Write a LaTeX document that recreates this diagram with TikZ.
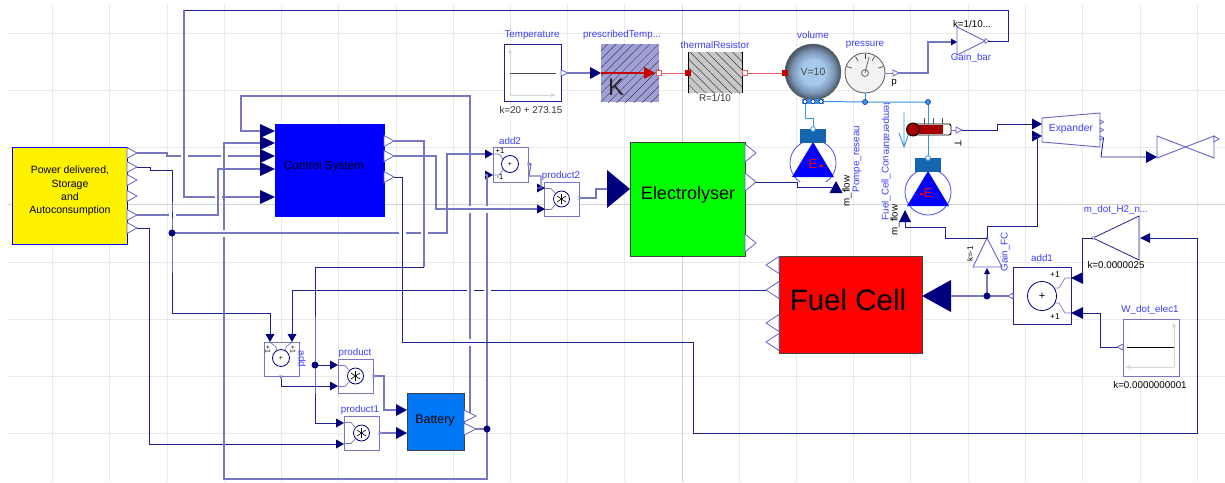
\documentclass[tikz,border=0pt]{standalone}
\usepackage{fontspec}
\setmainfont{Liberation Sans}
\usetikzlibrary{patterns.meta}
\definecolor{wiredark}{HTML}{20208F}
\definecolor{wiresoft}{HTML}{7878C0}
\definecolor{tipnavy}{HTML}{00007F}
\definecolor{portline}{HTML}{6464C4}
\definecolor{fluid}{HTML}{3794E6}
\definecolor{lblblue}{HTML}{3C3CFF}
\definecolor{gridlight}{HTML}{EAEAEA}
\definecolor{gridmid}{HTML}{D4D4D4}
\definecolor{heatred}{HTML}{E06060}
\definecolor{portred}{HTML}{C40000}
\definecolor{presfill}{HTML}{A0A0D8}
\definecolor{resfill}{HTML}{C8C8C8}
\definecolor{battfill}{HTML}{0078F5}
\definecolor{volinner}{HTML}{A5C8EB}
\definecolor{volmid}{HTML}{7A94B4}
\definecolor{volouter}{HTML}{46525F}
\definecolor{pumptop}{HTML}{1565B0}
\pgfdeclareradialshading{volshade}{\pgfpoint{0bp}{0bp}}{color(0bp)=(volinner); color(11bp)=(volinner); color(19bp)=(volmid); color(25bp)=(volouter); color(50bp)=(volouter)}
\tikzset{
  wire/.style={draw=wiredark,line width=0.9pt},
  softwire/.style={draw=wiresoft,line width=1.2pt},
  porttip/.style={fill=tipnavy},
  portopen/.style={draw=portline,fill=white,line width=0.8pt},
  smallbox/.style={draw=wiresoft,fill=white,line width=1pt,inner sep=0pt},
  opcircle/.style={draw=tipnavy,fill=white,line width=0.8pt},
  bigblock/.style={draw=black!75,fill=#1,line width=0.8pt,inner sep=0pt},
  lbl/.style={text=lblblue,inner sep=0pt,font=\fontsize{9.8}{11}\selectfont},
  dark/.style={text=black!80,inner sep=0pt,font=\fontsize{9.8}{11}\selectfont},
  hatchup/.style={fill=#1,postaction={pattern={Lines[angle=45,distance=6pt,line width=0.5pt]},pattern color=black!75}},
  hatchdown/.style={fill=#1,postaction={pattern={Lines[angle=-45,distance=6pt,line width=0.5pt]},pattern color=black!75}}
}
\newcommand{\intip}[6]{\fill[porttip,shift={(#2,#3)},rotate=#4] (0,0) -- (-#5,#6) -- (-#5,-#6) -- cycle;
  \path[shift={(#2,#3)},rotate=#4] (-#5,0) coordinate (#1);}
\newcommand{\outtip}[6]{\draw[portopen,shift={(#2,#3)},rotate=#4] (0,#6) -- (#5,0) -- (0,-#6) -- cycle;
  \path[shift={(#2,#3)},rotate=#4] (#5,0) coordinate (#1);}
\newcommand{\prodblock}[3]{\begin{scope}[shift={(#2,#3)}]
  \node[smallbox,minimum width=35pt,minimum height=34pt] (#1) at (17.5,17) {};
  \draw[wiresoft,line width=0.7pt] (0,6.5) -- (7,6.5) -- (11,11);
  \draw[wiresoft,line width=0.7pt] (0,27.5) -- (7,27.5) -- (11,23);
  \draw[opcircle] (17.5,17) circle (8pt);
  \draw[black,line width=0.6pt] (17.5,12) -- (17.5,22) (13,14) -- (22,20) (13,20) -- (22,14);
  \end{scope}}
\newcommand{\pumpblock}[3]{\begin{scope}[shift={(#2,#3)}]
  \draw[draw=blue!70,fill=white,line width=0.8pt] (0,0) circle (23pt);
  \fill[blue] (0,-21) -- (21,14) -- (-21,14) -- cycle;
  \fill[pumptop] (-13,-34) rectangle (13,-20);
  \coordinate (#1) at (0,-34);
  \end{scope}}
\newcommand{\hopH}[3]{\fill[white] (#1-3.5,#2-1.5) rectangle (#1+3.5,#2+1.5);
  \draw[#3] (#1,#2-3) -- (#1,#2+3);}
\newcommand{\hopV}[3]{\fill[white] (#1-1.5,#2-3.5) rectangle (#1+1.5,#2+3.5);
  \draw[#3] (#1-3,#2) -- (#1+3,#2);}
\begin{document}
\begin{tikzpicture}[x=1pt,y=-1pt]
\useasboundingbox (0,0) rectangle (1225,482);
\foreach \gx in {52,109,167,224,281,338,396,453,510,567,624,739,796,853,910,968,1025,1082,1140,1197}
  \draw[gridlight,line width=1pt] (\gx,5) -- (\gx,482);
\foreach \gy in {33,90,147,262,319,376,433}
  \draw[gridlight,line width=1pt] (8,\gy) -- (1225,\gy);
\draw[gridmid,line width=1pt] (682,5) -- (682,482);
\draw[gridmid,line width=1pt] (8,204) -- (1225,204);

\node[bigblock=yellow,draw=blue,minimum width=115pt,minimum height=97pt] (powerBlock) at (69.5,195.5) {};
\node[inner sep=0pt,align=center,font=\fontsize{10.5}{13.3}\selectfont] (powerText) at (70,191) {Power delivered,\\Storage\\and\\Autoconsumption};
\outtip{yelOut1}{127}{153}{0}{10}{5.5}
\outtip{yelOut2}{127}{167}{0}{10}{5.5}
\outtip{yelOut3}{127}{180}{0}{10}{5.5}
\outtip{yelOut4}{127}{196}{0}{10}{5.5}
\outtip{yelOut5}{127}{215}{0}{10}{5.5}
\outtip{yelOut6}{127}{228}{0}{10}{5.5}

\node[bigblock=blue,draw=blue,minimum width=109pt,minimum height=92pt] (ctrlBlock) at (329.5,170) {};
\node[inner sep=0pt,font=\fontsize{11.7}{13}\selectfont] (ctrlText) at (324,166) {Control System};
\intip{ctrlIn1}{275}{131}{0}{15}{7}
\intip{ctrlIn2}{275}{143}{0}{15}{7}
\intip{ctrlIn3}{275}{156}{0}{15}{7}
\intip{ctrlIn4}{275}{169}{0}{15}{7}
\intip{ctrlIn5}{275}{197}{0}{15}{7}
\outtip{ctrlOut1}{384}{141}{0}{10}{5.5}
\outtip{ctrlOut2}{384}{156}{0}{10}{5.5}
\outtip{ctrlOut3}{384}{177}{0}{10}{5.5}

\node[smallbox,minimum width=35pt,minimum height=34pt] (addBlock) at (281.5,359) {};
\draw[wiresoft,line width=0.7pt] (270,342) -- (276,347) -- (277,351);
\draw[wiresoft,line width=0.7pt] (292,342) -- (286,347) -- (285,351);
\draw[opcircle] (281,358) circle (8.5pt);
\node[inner sep=0pt,font=\fontsize{7}{8}\selectfont] (addPlus) at (281,358) {+};
\node[inner sep=0pt,rotate=-90,font=\fontsize{7}{8}\selectfont] (addSignA) at (268,349) {+1};
\node[inner sep=0pt,rotate=-90,font=\fontsize{7}{8}\selectfont] (addSignB) at (293,349) {+1};
\node[lbl,rotate=-90] (addLbl) at (302,359) {add};
\intip{addIn1}{270}{342}{-90}{8}{4.5}
\intip{addIn2}{292}{342}{-90}{8}{4.5}
\outtip{addOut}{281}{376}{-90}{2.5}{1.5}

\prodblock{prodBlock}{338}{359}
\node[lbl] (prodLbl) at (355,353) {product};
\intip{prodInA}{338}{365}{0}{8}{4.5}
\intip{prodInB}{338}{386}{0}{8}{4.5}
\outtip{prodOut}{373}{376}{0}{3}{1.5}

\prodblock{prodOneBlock}{344}{416}
\node[lbl] (prodOneLbl) at (360,410) {product1};
\intip{prodOneInA}{344}{423}{0}{8}{4.5}
\intip{prodOneInB}{344}{444}{0}{8}{4.5}
\outtip{prodOneOut}{379}{433}{0}{3}{1.5}

\node[bigblock=battfill,minimum width=57pt,minimum height=57pt] (battBlock) at (435.5,421.5) {};
\node[inner sep=0pt,font=\fontsize{12.4}{14}\selectfont] (battText) at (435,420.5) {Battery};
\intip{battInA}{407}{410}{0}{11}{6}
\intip{battInB}{407}{433}{0}{11}{6}
\outtip{battOutA}{464}{416}{0}{12}{6}
\outtip{battOutB}{464}{429}{0}{12}{6}
\coordinate (battTap) at (470,413);

\node[smallbox,minimum width=35pt,minimum height=35pt] (addTwoBlock) at (510.5,164.5) {};
\draw[wiresoft,line width=0.7pt] (493,154) -- (499,154) -- (503,159);
\draw[wiresoft,line width=0.7pt] (493,175) -- (499,175) -- (503,170);
\draw[opcircle] (510,164) circle (8.5pt);
\node[inner sep=0pt,font=\fontsize{7}{8}\selectfont] (addTwoPlus) at (510,164) {+};
\node[inner sep=0pt,font=\fontsize{7.5}{8}\selectfont] (addTwoSignA) at (500,151) {+1};
\node[inner sep=0pt,font=\fontsize{7.5}{8}\selectfont] (addTwoSignB) at (500,177) {-1};
\node[lbl] (addTwoLbl) at (510,141) {add2};
\intip{addTwoInA}{493}{154}{0}{8}{4.5}
\intip{addTwoInB}{493}{175}{0}{8}{4.5}
\outtip{addTwoOut}{528}{164}{0}{3}{1.5}

\prodblock{prodTwoBlock}{544}{182}
\node[lbl,fill=white] (prodTwoLbl) at (561,175.5) {product2};
\intip{prodTwoInA}{545}{188}{0}{8}{4.5}
\intip{prodTwoInB}{545}{209}{0}{8}{4.5}
\outtip{prodTwoOut}{579}{198}{0}{3}{1.5}

\node[bigblock=green,minimum width=115pt,minimum height=114pt] (elecBlock) at (687.5,199) {};
\node[inner sep=0pt,font=\fontsize{18}{20}\selectfont] (elecText) at (688,195) {Electrolyser};
\intip{elecIn}{630}{189}{0}{23}{19}
\outtip{elecOutA}{745}{153}{0}{11}{9}
\outtip{elecOutB}{745}{182}{0}{11}{9}
\outtip{elecOutC}{745}{243}{0}{11}{9}

\node[bigblock=red,minimum width=143pt,minimum height=97pt] (fuelBlock) at (850.5,304.5) {};
\node[inner sep=0pt,font=\fontsize{29.5}{32}\selectfont] (fuelText) at (848,300) {Fuel Cell};
\intip{fuelIn}{922}{296}{180}{29}{16}
\outtip{fuelOutA}{779}{265}{180}{13}{8.5}
\outtip{fuelOutB}{779}{290}{180}{13}{8.5}
\outtip{fuelOutC}{779}{323}{180}{13}{8.5}
\outtip{fuelOutD}{779}{342}{180}{13}{8.5}

\node[smallbox,draw=wiredark,minimum width=57pt,minimum height=57pt] (tempBlock) at (532.5,72.5) {};
\draw[gridmid,line width=0.8pt,-latex] (510,95) -- (510,48);
\draw[gridmid,line width=0.8pt,-latex] (510,95) -- (556,95);
\draw[black!70,line width=0.8pt] (510,73) -- (556,73);
\node[lbl] (tempLbl) at (532,35) {Temperature};
\node[dark] (tempVal) at (531,110) {k=20 + 273.15};
\outtip{tempOut}{561}{73}{0}{7}{3}

\node[hatchup=presfill,minimum width=58pt,minimum height=58pt,inner sep=0pt] (presBlock) at (630,73) {};
\node[inner sep=0pt,text=black!85,font=\fontsize{24}{26}\selectfont] (presK) at (616,87) {K};
\node[lbl] (presLbl) at (622,35) {prescribedTemp...};
\intip{presIn}{601}{73}{0}{11}{6}
\coordinate (presRed) at (601,73);
\draw[portred,line width=1.2pt] (presRed) -- (646,73);
\fill[portred] (655,73) -- (644,67) -- (644,79) -- cycle;
\node[draw=heatred,fill=white,line width=0.9pt,minimum size=5pt,inner sep=0pt] (presOut) at (659,73) {};

\node[hatchdown=resfill,minimum width=53pt,minimum height=41pt,inner sep=0pt] (resBlock) at (715.5,72.5) {};
\draw[black,line width=1.2pt] (resBlock.north west) -- (resBlock.south west);
\draw[black,line width=1.2pt] (resBlock.north east) -- (resBlock.south east);
\node[lbl] (resLbl) at (715,45) {thermalResistor};
\node[dark] (resVal) at (715,98) {R=1/10};
\node[fill=portred,minimum size=6pt,inner sep=0pt] (resIn) at (688,73) {};
\node[draw=heatred,fill=white,line width=0.9pt,minimum size=5pt,inner sep=0pt] (resOut) at (745,73) {};

\draw[heatred,line width=1pt] (presOut) -- (resIn);
\coordinate (volIn) at (785,73);
\draw[heatred,line width=1pt] (resOut) -- (volIn);

\node[circle,draw=black!60,shading=volshade,minimum size=56pt,inner sep=0pt,text=black!70,font=\fontsize{10.5}{12}\selectfont] (volBlock) at (813,72) {V=10};
\node[fill=portred,minimum size=6pt,inner sep=0pt] (volPort) at (volIn) {};
\node[lbl] (volLbl) at (813,35) {volume};
\node[fill=fluid,minimum width=22pt,minimum height=5.5pt,inner sep=0pt] (volPorts) at (813,101.5) {};
\draw[tipnavy,fill=white,line width=0.5pt] (805,101.5) circle (2pt) (813,101.5) circle (2pt) (821,101.5) circle (2pt);

\node[circle,draw=black!60,fill=black!5,minimum size=40pt,inner sep=0pt,line width=0.9pt] (pressBlock) at (865,73) {};
\foreach \ang in {160,120,90,60,20}
  \draw[black!80,line width=0.6pt] ([shift={(\ang:14pt)}]pressBlock.center) -- ([shift={(\ang:19pt)}]pressBlock.center);
\draw[black!50,line width=1pt] (865,73) circle (3.5pt);
\draw[black!60,line width=0.8pt] (865,73) -- (869,57);
\node[lbl] (pressLbl) at (865,44.5) {pressure};
\node[dark,text=black] (pressP) at (894,83) {p};
\outtip{pressOut}{893}{73}{0}{6}{3}
\draw[wiresoft,line width=0.8pt] (pressBlock.east) -- (893,73);

\draw[portline,fill=white,line width=0.9pt] (957,27) -- (985,41) -- (957,55) -- cycle;
\coordinate (gainBarOut) at (988,41);
\draw[portline,fill=white,line width=0.6pt] (985,38.5) -- (989,41) -- (985,43.5) -- cycle;
\intip{gainBarIn}{957}{42}{0}{6}{3.5}
\node[dark,text=black] (gainBarVal) at (972,24) {k=1/10...};
\node[lbl] (gainBarLbl) at (971,58) {Gain\_bar};

\pumpblock{pumpOnePort}{813}{163}
\fill[white] (798,181.5) rectangle (828,188);
\node[text=red,inner sep=0pt,font=\fontsize{13}{14}\selectfont] (pumpOneE) at (813,164) {E};
\fill[red] (820,164.5) rectangle (822.5,167);
\node[lbl,rotate=90] (pumpOneLbl) at (857,159) {Pompe\_reseau};
\pumpblock{pumpTwoPort}{928}{192}
\node[text=red,inner sep=0pt,font=\fontsize{13}{14}\selectfont] (pumpTwoE) at (928,193) {E};
\fill[red] (920,192.5) rectangle (922.5,195);
\node[lbl,rotate=90] (pumpTwoLbl) at (886,188) {Fuel\_Cell\_Con};
\node[lbl,rotate=-90] (thermoLbl) at (886,129) {temperature};
\intip{pumpOneFlow}{836}{181}{90}{12}{6.5}
\node[dark,text=black,rotate=90] (pumpOneFlowLbl) at (847,191) {m\_flow};
\intip{pumpTwoFlow}{905}{210}{90}{12}{6}
\node[dark,text=black,rotate=90] (pumpTwoFlowLbl) at (895,220) {m\_flow};

\coordinate (pressDot) at (865,102);
\coordinate (fluidDot) at (928,102);
\draw[fluid,line width=1pt] (volPorts.east) -- (pressDot) -- (fluidDot);
\draw[fluid,line width=1pt] (pressBlock.south) -- (pressDot);
\draw[fluid,line width=1pt] (fluidDot) -- (pumpTwoPort);
\draw[fluid,line width=1pt] (pumpOnePort) -- (813,118) -- (805,118) -- (805,104);
\fill[fluid,draw=blue!60!black,line width=0.4pt] (pressDot) circle (2.6pt);
\fill[fluid,draw=blue!60!black,line width=0.4pt] (fluidDot) circle (2.6pt);
\draw[fluid,fill=white,line width=0.8pt] (pumpOnePort) circle (2.4pt);
\draw[fluid,fill=white,line width=0.8pt] (pumpTwoPort) circle (2.4pt);
\draw[fluid,line width=0.9pt] (904,112) -- (904,147) (899,133) -- (904,147) -- (909,133);

\draw[black,line width=0.9pt,fill=white,rounded corners=2pt] (915,124) rectangle (951,135);
\fill[portred!85!black] (915,125) rectangle (943,134);
\draw[black,line width=0.9pt,fill=portred!85!black] (913,129.5) circle (6.5pt);
\draw[black!70,line width=0.7pt] (924,118) -- (924,124) (933,118) -- (933,124) (942,118) -- (942,124);
\outtip{thermoOut}{956}{130}{0}{6}{3}
\draw[wiresoft,line width=0.6pt] (951,130) -- (956,130);
\node[dark,text=black,rotate=-90] (thermoT) at (958,143) {T};

\draw[portline,fill=white,line width=0.9pt] (1042,118) -- (1100,113) -- (1100,147) -- (1042,142) -- cycle;
\node[inner sep=0pt,text=lblblue,font=\fontsize{10.3}{11}\selectfont] (expText) at (1071,129) {Expander};
\intip{expInA}{1042}{124}{0}{10}{5.5}
\intip{expInB}{1042}{136}{0}{10}{5.5}
\outtip{expOutA}{1100}{122}{0}{3.5}{2}
\outtip{expOutB}{1100}{130}{0}{3.5}{2}
\outtip{expOutC}{1100}{138}{0}{3.5}{2}
\draw[portline,fill=white,line width=0.9pt] (1157,136) -- (1214,158) -- (1214,136) -- (1157,158) -- cycle;
\intip{valveIn}{1157}{157}{0}{11}{6}
\outtip{valveOut}{1214}{139}{0}{5}{3}

\draw[portline,fill=white,line width=0.9pt] (987,238) -- (1002,267) -- (973,267) -- cycle;
\coordinate (gainFcOut) at (987,238);
\draw[wiresoft,fill=white,line width=0.5pt] (987,238) circle (1.2pt);
\intip{gainFcIn}{987}{268}{90}{6}{3}
\node[inner sep=0pt,rotate=90,text=black,font=\fontsize{8}{9}\selectfont] (gainFcVal) at (970,254) {k=-1};
\node[lbl,rotate=90] (gainFcLbl) at (1005,252) {Gain\_FC};

\node[smallbox,draw=wiredark,minimum width=58pt,minimum height=57pt] (addOneBlock) at (1042,295.5) {};
\draw[wiresoft,line width=0.7pt] (1071,278) -- (1065,278) -- (1059,288) -- (1055,288);
\draw[wiresoft,line width=0.7pt] (1071,313) -- (1065,313) -- (1059,303) -- (1055,303);
\draw[opcircle] (1042,296) circle (14.5pt);
\node[inner sep=0pt,font=\fontsize{11}{12}\selectfont] (addOnePlus) at (1042,296) {+};
\node[inner sep=0pt,font=\fontsize{8.5}{10}\selectfont] (addOneSignA) at (1055,275) {+1};
\node[inner sep=0pt,font=\fontsize{8.5}{10}\selectfont] (addOneSignB) at (1055,317) {+1};
\node[lbl] (addOneLbl) at (1042,258) {add1};
\intip{addOneInA}{1071}{278}{180}{12}{6}
\intip{addOneInB}{1071}{313}{180}{12}{6}
\outtip{addOneOut}{1013}{296}{180}{5}{3}

\draw[wiredark,fill=white,line width=0.8pt] (1093,238) -- (1139,216) -- (1139,260) -- cycle;
\coordinate (mdotOut) at (1093,238);
\draw[wiresoft,fill=white,line width=0.5pt] (1093,238) circle (1.6pt);
\intip{mdotIn}{1140}{238}{180}{10}{5}
\node[lbl] (mdotLbl) at (1116,210) {m\_dot\_H2\_n...};
\node[dark,text=black] (mdotVal) at (1116,265) {k=0.0000025};

\node[smallbox,draw=wiresoft,minimum width=56pt,minimum height=57pt] (wdotBlock) at (1151,347.5) {};
\draw[gridmid,line width=0.8pt,-latex] (1174,367) -- (1174,322);
\draw[gridmid,line width=0.8pt,-latex] (1174,367) -- (1125,367);
\draw[black,line width=0.8pt] (1127,347) -- (1174,347);
\node[lbl] (wdotLbl) at (1150,310) {W\_dot\_elec1};
\node[dark,text=black] (wdotVal) at (1150,385) {k=0.0000000001};
\outtip{wdotOut}{1123}{347}{180}{6}{3}

\coordinate (dotA) at (172,233);
\coordinate (dotB) at (487,429);
\coordinate (dotC) at (315,365);
\coordinate (dotD) at (987,296);

\draw[softwire] (yelOut1) -- (167,153) -- (167,156) -- (ctrlIn3);
\draw[wire] (yelOut2) -- (150,167) -- (150,170) -- (172,170) -- (dotA) -- (172,313) -- (270,313) -- (addIn1);
\draw[softwire] (dotA) -- (447,233) -- (447,154) -- (addTwoInA);
\draw[softwire] (yelOut5) -- (218,215) -- (218,169) -- (ctrlIn4);
\draw[wire] (yelOut6) -- (149,228) -- (149,444) -- (prodOneInB);
\draw[softwire] (battOutB) -- (dotB) -- (487,479) -- (224,479) -- (224,143) -- (ctrlIn2);
\draw[softwire] (dotB) -- (487,175) -- (addTwoInB);
\draw[softwire] (battTap) -- (470,96) -- (241,96) -- (241,131) -- (ctrlIn1);
\draw[wire] (gainBarOut) -- (1008,41) -- (1008,10) -- (184,10);
\draw[softwire] (184,10) -- (184,197) -- (ctrlIn5);
\draw[softwire] (ctrlOut1) -- (424,141) -- (424,267);
\draw[wire] (424,267) -- (315,267) -- (dotC) -- (315,423) -- (prodOneInA);
\draw[wire] (dotC) -- (prodInA);
\draw[wire] (addOut) -- (281,386) -- (prodInB);
\draw[softwire] (prodOut) -- (384,376) -- (384,410) -- (battInA);
\draw[softwire] (prodOneOut) -- (battInB);
\draw[softwire] (ctrlOut2) -- (436,156) -- (436,209) -- (prodTwoInB);
\draw[wire] (ctrlOut3) -- (402,177) -- (402,342) -- (693,342) -- (693,433) -- (1197,433) -- (1197,238) -- (mdotIn);
\draw[wire] (fuelOutB) -- (292,290) -- (addIn2);
\draw[softwire] (addTwoOut) -- (529,176) -- (541,176) -- (541,188) -- (prodTwoInA);
\draw[softwire] (prodTwoOut) -- (596,198) -- (596,189) -- (elecIn);
\draw[wire] (elecOutB) -- (797,182) -- (797,187) -- (836,187);
\draw[softwire] (tempOut) -- (presIn);
\draw[softwire] (pressOut) -- (928,73) -- (928,42) -- (gainBarIn);
\draw[wire] (thermoOut) -- (997,130) -- (997,124) -- (expInA);
\draw[wire] (gainFcOut) -- (987,226) -- (1037,226) -- (1037,136) -- (expInB);
\draw[wire] (gainFcOut) -- (945,238) -- (945,227) -- (905,227) -- (pumpTwoFlow);
\draw[softwire] (dotD) -- (gainFcIn);
\draw[softwire] (addOneOut) -- (dotD) -- (fuelIn);
\draw[wire] (expOutC) -- (1101,157) -- (valveIn);
\draw[wire] (mdotOut) -- (1082,238) -- (1082,278) -- (addOneInA);
\draw[wire] (wdotOut) -- (1100,347) -- (1100,313) -- (addOneInB);

\hopH{184}{156}{softwire}
\hopH{224}{156}{softwire}
\hopH{218}{197}{softwire}
\hopH{172}{215}{wire}
\hopH{402}{233}{wire}
\hopH{424}{233}{softwire}
\hopH{470}{290}{softwire}
\hopH{487}{290}{softwire}
\hopV{470}{209}{softwire}
\hopV{487}{209}{softwire}
\hopV{224}{233}{softwire}
\hopV{470}{342}{wire}

\fill[tipnavy] (dotA) circle (3.5pt);
\fill[tipnavy] (dotB) circle (3.5pt);
\fill[tipnavy] (dotC) circle (3.5pt);
\fill[tipnavy] (dotD) circle (3.5pt);
\end{tikzpicture}
\end{document}
